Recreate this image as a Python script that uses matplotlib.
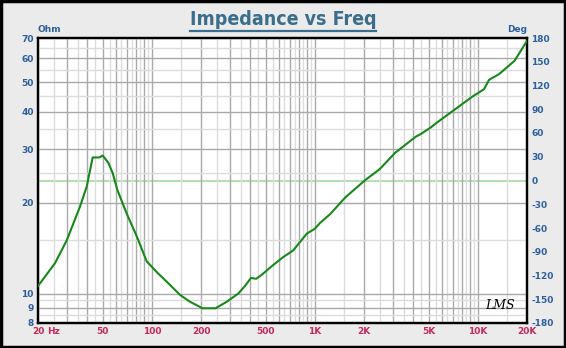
import matplotlib
matplotlib.use("Agg")
import matplotlib.pyplot as plt
from matplotlib.patches import Rectangle
from matplotlib.lines import Line2D

plt.rcParams["axes.unicode_minus"] = False

# impedance curve (Hz, Ohm)
freq = [20, 25.4, 30, 36.2, 39.8, 43.3, 47.4, 49.9, 54, 57.5, 61.4, 70, 80.6,
        92.8, 106.8, 126, 149, 171, 204, 246, 288, 338, 372, 405, 436, 470,
        546, 636, 736, 892, 1000, 1071, 1237, 1535, 2026, 2497, 3101, 4146,
        4460, 5160, 5690, 7250, 9240, 10900, 11700, 13500, 16800, 20000]
imp = [10.6, 12.6, 15.0, 19.4, 22.6, 28.2, 28.2, 28.6, 27.1, 25.0, 22.0, 18.4,
       15.5, 12.8, 11.8, 10.83, 9.9, 9.41, 8.95, 8.95, 9.41, 10.0, 10.6, 11.27,
       11.2, 11.53, 12.35, 13.19, 13.9, 15.8, 16.4, 17.1, 18.3, 20.8, 23.7,
       25.8, 29.2, 33.0, 33.7, 35.5, 37.0, 40.7, 44.8, 47.4, 50.9, 53.2, 58.9,
       68.5]

x_labels = {20: "20", 50: "50", 100: "100", 200: "200", 500: "500",
            1000: "1K", 2000: "2K", 5000: "5K", 10000: "10K", 20000: "20K"}
y_labels = [8, 9, 10, 20, 30, 40, 50, 60, 70]
phase_ticks = list(range(-180, 181, 30))

BLUE = "#2d5f9e"
RED = "#c8285a"
DARK = "#a9a9a9"
LIGHT = "#dcdcdc"

fig = plt.figure(figsize=(5.66, 3.48), dpi=100)
fig.patch.set_facecolor("#ebebeb")
fig.patches.append(Rectangle((0.002, 0.003), 0.996, 0.994, transform=fig.transFigure,
                             fill=False, edgecolor="black", lw=2.5))

ax = fig.add_axes([38 / 566, 25 / 348, 489 / 566, 285 / 348])
ax.set_xscale("log")
ax.set_yscale("log")
ax.set_xlim(19.999, 20001)
ax.set_ylim(8, 70)

# grid: dark on multiples of 10 in each decade, light on the 5-offsets
dark_x, light_x = [], []
for dec in [10, 100, 1000, 10000]:
    for m in range(1, 10):
        f = m * dec
        if 20 <= f <= 20000:
            dark_x.append(f)
        h = (m + 0.5) * dec
        if 20 < h < 20000:
            light_x.append(h)
dark_y = [8, 9, 10, 20, 30, 40, 50, 60, 70]
light_y = [8.5, 9.5, 15, 25, 35, 45, 55, 65]

ax.set_xticks(dark_x)
ax.set_xticks(light_x, minor=True)
ax.set_xticklabels([x_labels.get(f, "") for f in dark_x])
ax.set_xticklabels([], minor=True)
ax.set_yticks(dark_y)
ax.set_yticks(light_y, minor=True)
ax.set_yticklabels([str(v) if v in y_labels else "" for v in dark_y])
ax.set_yticklabels([], minor=True)
ax.grid(True, which="major", color=DARK, lw=1.0)
ax.grid(True, which="minor", color=LIGHT, lw=1.0)
ax.set_axisbelow(True)
ax.tick_params(which="both", length=0)
ax.tick_params(axis="x", colors=RED, labelsize=6.5, pad=3)
ax.tick_params(axis="y", colors=BLUE, labelsize=6.5, pad=3)
for lab in ax.get_xticklabels() + ax.get_yticklabels():
    lab.set_fontweight("bold")

ax2 = ax.twinx()
ax2.set_ylim(-180, 180)
ax2.set_yticks(phase_ticks)
ax2.tick_params(length=0, colors=BLUE, labelsize=6.5, pad=3)
for lab in ax2.get_yticklabels():
    lab.set_fontweight("bold")
ax2.axhline(0, color="#a4daa4", lw=1.2, zorder=1)

ax.plot(freq, imp, color="#18881c", lw=1.5, zorder=5)
ax.set_zorder(ax2.get_zorder() + 1)
ax.patch.set_visible(False)
ax2.patch.set_facecolor("white")
ax2.patch.set_visible(True)

for a in (ax, ax2):
    for s in a.spines.values():
        s.set_color("black")
        s.set_linewidth(1.6)

ax.annotate("Hz", xy=(24.8, 0), xycoords=("data", "axes fraction"),
            xytext=(0, -3), textcoords="offset points", color=RED,
            fontsize=6.5, fontweight="bold", ha="center", va="top")
ax.text(0.0, 1.015, "Ohm", transform=ax.transAxes, color=BLUE, fontsize=6.5,
        fontweight="bold", ha="left", va="bottom")
ax.text(1.0, 1.015, "Deg", transform=ax.transAxes, color=BLUE, fontsize=6.5,
        fontweight="bold", ha="right", va="bottom")
ax.text(0.945, 0.06, "LMS", transform=ax.transAxes, color="black", fontsize=9,
        fontstyle="italic", family="DejaVu Serif", ha="center", va="center")

title = fig.text(0.5, 0.943, "Impedance vs Freq", ha="center", va="center",
                 fontsize=14, fontweight="bold", color="#3b6d8c",
                 fontstretch="condensed",
                 family=["Liberation Sans Narrow", "DejaVu Sans"])
fig.canvas.draw()
bb = title.get_window_extent().transformed(fig.transFigure.inverted())
fig.lines.append(Line2D([bb.x0, bb.x1], [bb.y0 - 0.004, bb.y0 - 0.004],
                        transform=fig.transFigure, color="#3b6d8c", lw=1.6))

fig.savefig("out.png", dpi=100, facecolor=fig.get_facecolor())
